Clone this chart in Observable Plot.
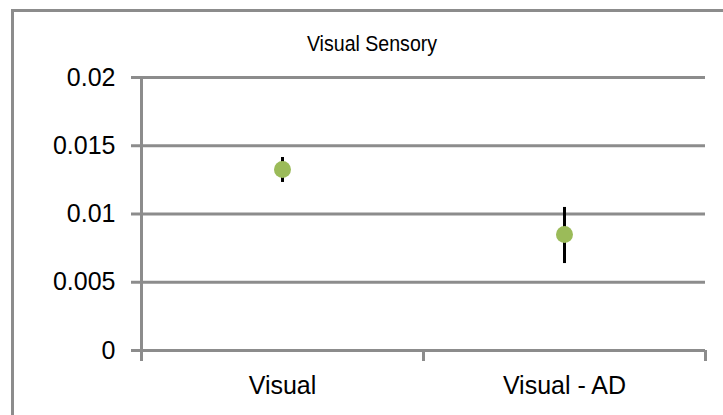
<!DOCTYPE html>
<html>
<head>
<meta charset="utf-8">
<script src="https://cdn.jsdelivr.net/npm/d3@7"></script>
<script src="https://cdn.jsdelivr.net/npm/@observablehq/plot@0.6"></script>
<style>
  html, body { margin: 0; padding: 0; background: #fff; overflow: hidden; }
  #wrap { position: relative; width: 723px; height: 415px; font-family: "Liberation Sans", Arial, sans-serif; }
  #border { position: absolute; left: 11px; top: 9px; width: 900px; height: 600px; border-top: 3px solid #8c8c8c; border-left: 3px solid #8c8c8c; }
  #title { position: absolute; left: 222px; width: 300px; top: 32px; text-align: center; font-size: 21.5px; line-height: 24px; color: #000; transform: scaleX(0.91); transform-origin: 150px 0; }
  #chart { position: absolute; left: 0; top: 0; }
</style>
</head>
<body>
<div id="wrap">
  <div id="border"></div>
  <div id="title">Visual Sensory</div>
  <div id="chart"></div>
</div>
<script>
const categories = ["Visual", "Visual - AD"];
const means = [0.01326, 0.0085];
const upper = [0.01414, 0.01048];
const lower = [0.01231, 0.00637];
const yTicks = [0, 0.005, 0.01, 0.015, 0.02];

const data = categories.map((c, i) => ({
  cat: c, pos: i + 0.5, mean: means[i], hi: upper[i], lo: lower[i]
}));
const catPositions = categories.map((c, i) => i + 0.5);
const boundaries = d3.range(categories.length + 1);

const gray = "#8c8c8c";
const chart = Plot.plot({
  width: 723,
  height: 415,
  marginLeft: 141,
  marginRight: 18,
  marginTop: 77,
  marginBottom: 65,
  style: { fontFamily: "Liberation Sans, Arial, sans-serif", fontSize: "25px", color: "#000", background: "transparent" },
  x: { type: "linear", domain: [0, categories.length], axis: null, label: null },
  y: { domain: [0, 0.02], axis: null, label: null },
  marks: [
    Plot.ruleY(yTicks, { stroke: gray, strokeWidth: 3 }),
    Plot.axisY({ ticks: yTicks, label: null, tickSize: 10, tickPadding: 16, tickFormat: d => String(d), stroke: gray, strokeWidth: 3, strokeOpacity: 1, fontSize: 25, fill: "#000" }),
    Plot.ruleX([0], { y1: 0, y2: 0.02, stroke: gray, strokeWidth: 3 }),
    Plot.axisX({ ticks: boundaries, label: null, tickSize: 11, tickFormat: () => "", stroke: gray, strokeWidth: 3, strokeOpacity: 1 }),
    Plot.axisX({ ticks: catPositions, label: null, tickSize: 0, tickPadding: 26, tickFormat: d => categories[Math.floor(d)], fontSize: 25, fill: "#000" }),
    Plot.ruleX(data, { x: "pos", y1: "lo", y2: "hi", stroke: "#000", strokeWidth: 3 }),
    Plot.dot(data, { x: "pos", y: "mean", r: 8.5, fill: "#9bbb59", stroke: "none" })
  ]
});
document.getElementById("chart").appendChild(chart);
</script>
</body>
</html>
